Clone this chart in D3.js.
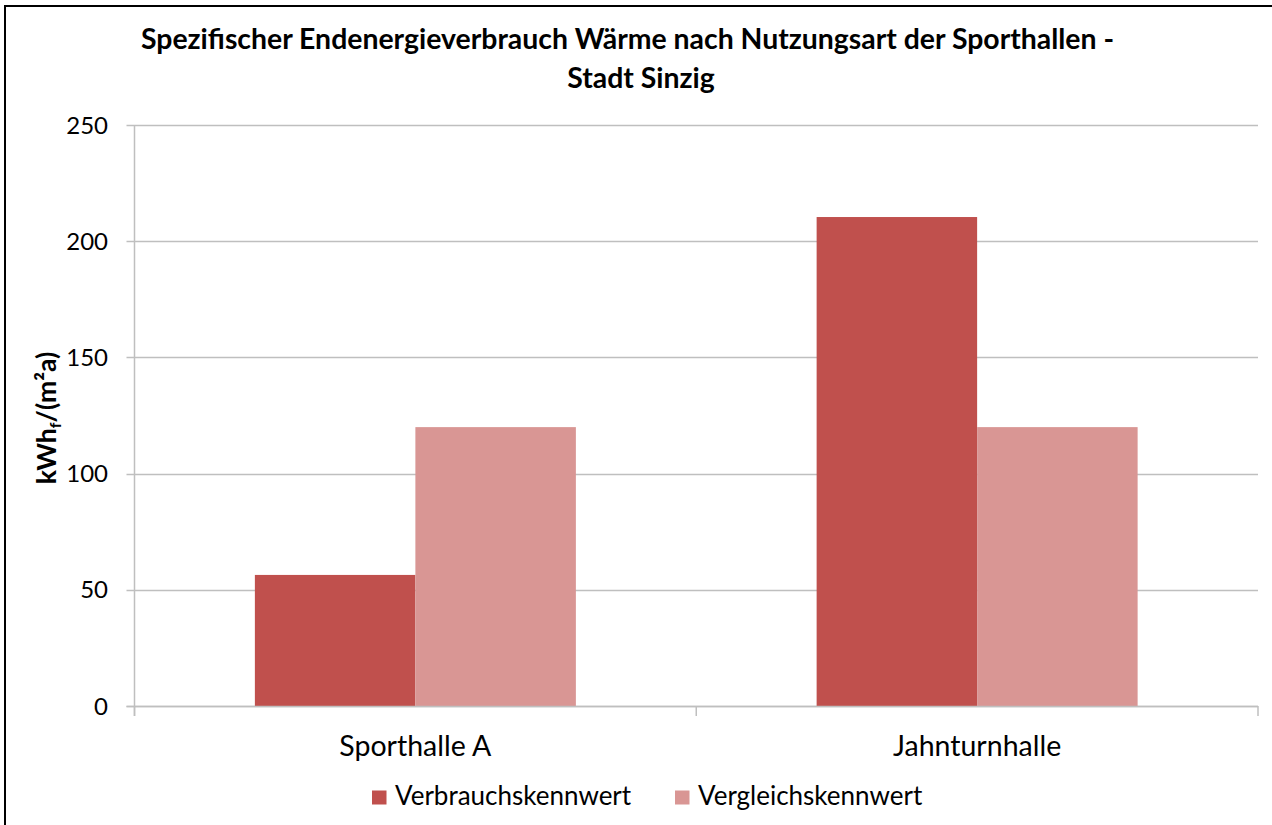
<!DOCTYPE html>
<html>
<head>
<meta charset="utf-8">
<script src="https://cdn.jsdelivr.net/npm/d3@7"></script>
<style>
  html, body { margin: 0; padding: 0; background: #fff; }
  svg { display: block; }
  text { font-family: Lato, "Open Sans", sans-serif; fill: #000; }
</style>
</head>
<body>
<svg id="chart" width="1272" height="825"></svg>
<script>
// Specific final energy demand for heat, per sports hall
const categories = ["Sporthalle A", "Jahnturnhalle"];
const seriesNames = ["Verbrauchskennwert", "Vergleichskennwert"];
const verbrauch = [56.4, 210.4];
const vergleich = [120, 120];
const yTicks = [0, 50, 100, 150, 200, 250];
const colors = ["#C0504D", "#D99694"];

const svg = d3.select("#chart");
const W = 1272, H = 825;
const m = { left: 134.5, right: 1258, top: 125, bottom: 706 };

svg.append("rect").attr("x", 0).attr("y", 0).attr("width", W).attr("height", H).attr("fill", "#fff");
// outer chart frame
svg.append("rect").attr("x", 5).attr("y", 6).attr("width", W + 20).attr("height", H + 20)
  .attr("fill", "none").attr("stroke", "#000").attr("stroke-width", 2);

const x = d3.scaleBand().domain(categories).range([m.left, m.right]).paddingInner(0).paddingOuter(0);
const x1 = d3.scaleBand().domain(seriesNames).range([0, x.bandwidth()]).paddingInner(0).paddingOuter(0.75);
const y = d3.scaleLinear().domain([0, 250]).range([m.bottom, m.top]);

// horizontal gridlines
svg.append("g").selectAll("line").data(yTicks).join("line")
  .attr("x1", m.left - 8).attr("x2", m.right)
  .attr("y1", d => Math.round(y(d)) + 0.5).attr("y2", d => Math.round(y(d)) + 0.5)
  .attr("stroke", "#BFBFBF").attr("stroke-width", 1.5);

// bars
const rows = categories.map((c, i) => ({ cat: c, vals: [verbrauch[i], vergleich[i]] }));
const groups = svg.append("g").selectAll("g").data(rows).join("g")
  .attr("transform", d => `translate(${x(d.cat)},0)`);
groups.selectAll("rect").data(d => d.vals.map((v, j) => ({ s: seriesNames[j], v, j }))).join("rect")
  .attr("x", d => x1(d.s)).attr("width", x1.bandwidth())
  .attr("y", d => y(d.v)).attr("height", d => y(0) - y(d.v))
  .attr("fill", d => colors[d.j]);

// y axis line
svg.append("line").attr("x1", m.left).attr("x2", m.left).attr("y1", m.top).attr("y2", m.bottom + 10)
  .attr("stroke", "#BFBFBF").attr("stroke-width", 1.5);
// x axis baseline and category ticks
svg.append("line").attr("x1", m.left - 8).attr("x2", m.right).attr("y1", m.bottom + 0.5).attr("y2", m.bottom + 0.5)
  .attr("stroke", "#BFBFBF").attr("stroke-width", 1.5);
const bounds = [m.left, ...categories.map(c => x(c) + x.bandwidth())];
svg.append("g").selectAll("line").data(bounds).join("line")
  .attr("x1", d => d).attr("x2", d => d).attr("y1", m.bottom).attr("y2", m.bottom + 10)
  .attr("stroke", "#BFBFBF").attr("stroke-width", 1.5);

// y tick labels
svg.append("g").selectAll("text").data(yTicks).join("text")
  .attr("x", 108).attr("y", d => y(d) + 8.5)
  .attr("text-anchor", "end").attr("font-size", 24)
  .text(d => d);

// category labels
svg.append("g").selectAll("text").data(categories).join("text")
  .attr("x", d => x(d) + x.bandwidth() / 2).attr("y", 756)
  .attr("text-anchor", "middle").attr("font-size", 28.5)
  .text(d => d);

// title
const title = svg.append("text").attr("text-anchor", "middle").attr("font-weight", "bold").attr("font-size", 28.4);
title.append("tspan").attr("x", 627.5).attr("y", 49).text("Spezifischer Endenergieverbrauch Wärme nach Nutzungsart der Sporthallen -");
title.append("tspan").attr("x", 641).attr("y", 88).text("Stadt Sinzig");

// y axis title
const yl = svg.append("text").attr("transform", "translate(56,418) rotate(-90)")
  .attr("text-anchor", "middle").attr("font-weight", "bold").attr("font-size", 26.5);
yl.append("tspan").text("kWh");
yl.append("tspan").attr("font-size", 16).attr("dy", 5).text("f");
yl.append("tspan").attr("dy", -5).text("/(m²a)");

// legend
const legX = [372, 675];
const leg = svg.append("g").selectAll("g").data(seriesNames).join("g")
  .attr("transform", (d, i) => `translate(${legX[i]},0)`);
leg.append("rect").attr("x", 0).attr("y", 790.5).attr("width", 14.5).attr("height", 14)
  .attr("fill", (d, i) => colors[i]);
leg.append("text").attr("x", 23).attr("y", 805).attr("font-size", 26).text(d => d);
</script>
</body>
</html>
